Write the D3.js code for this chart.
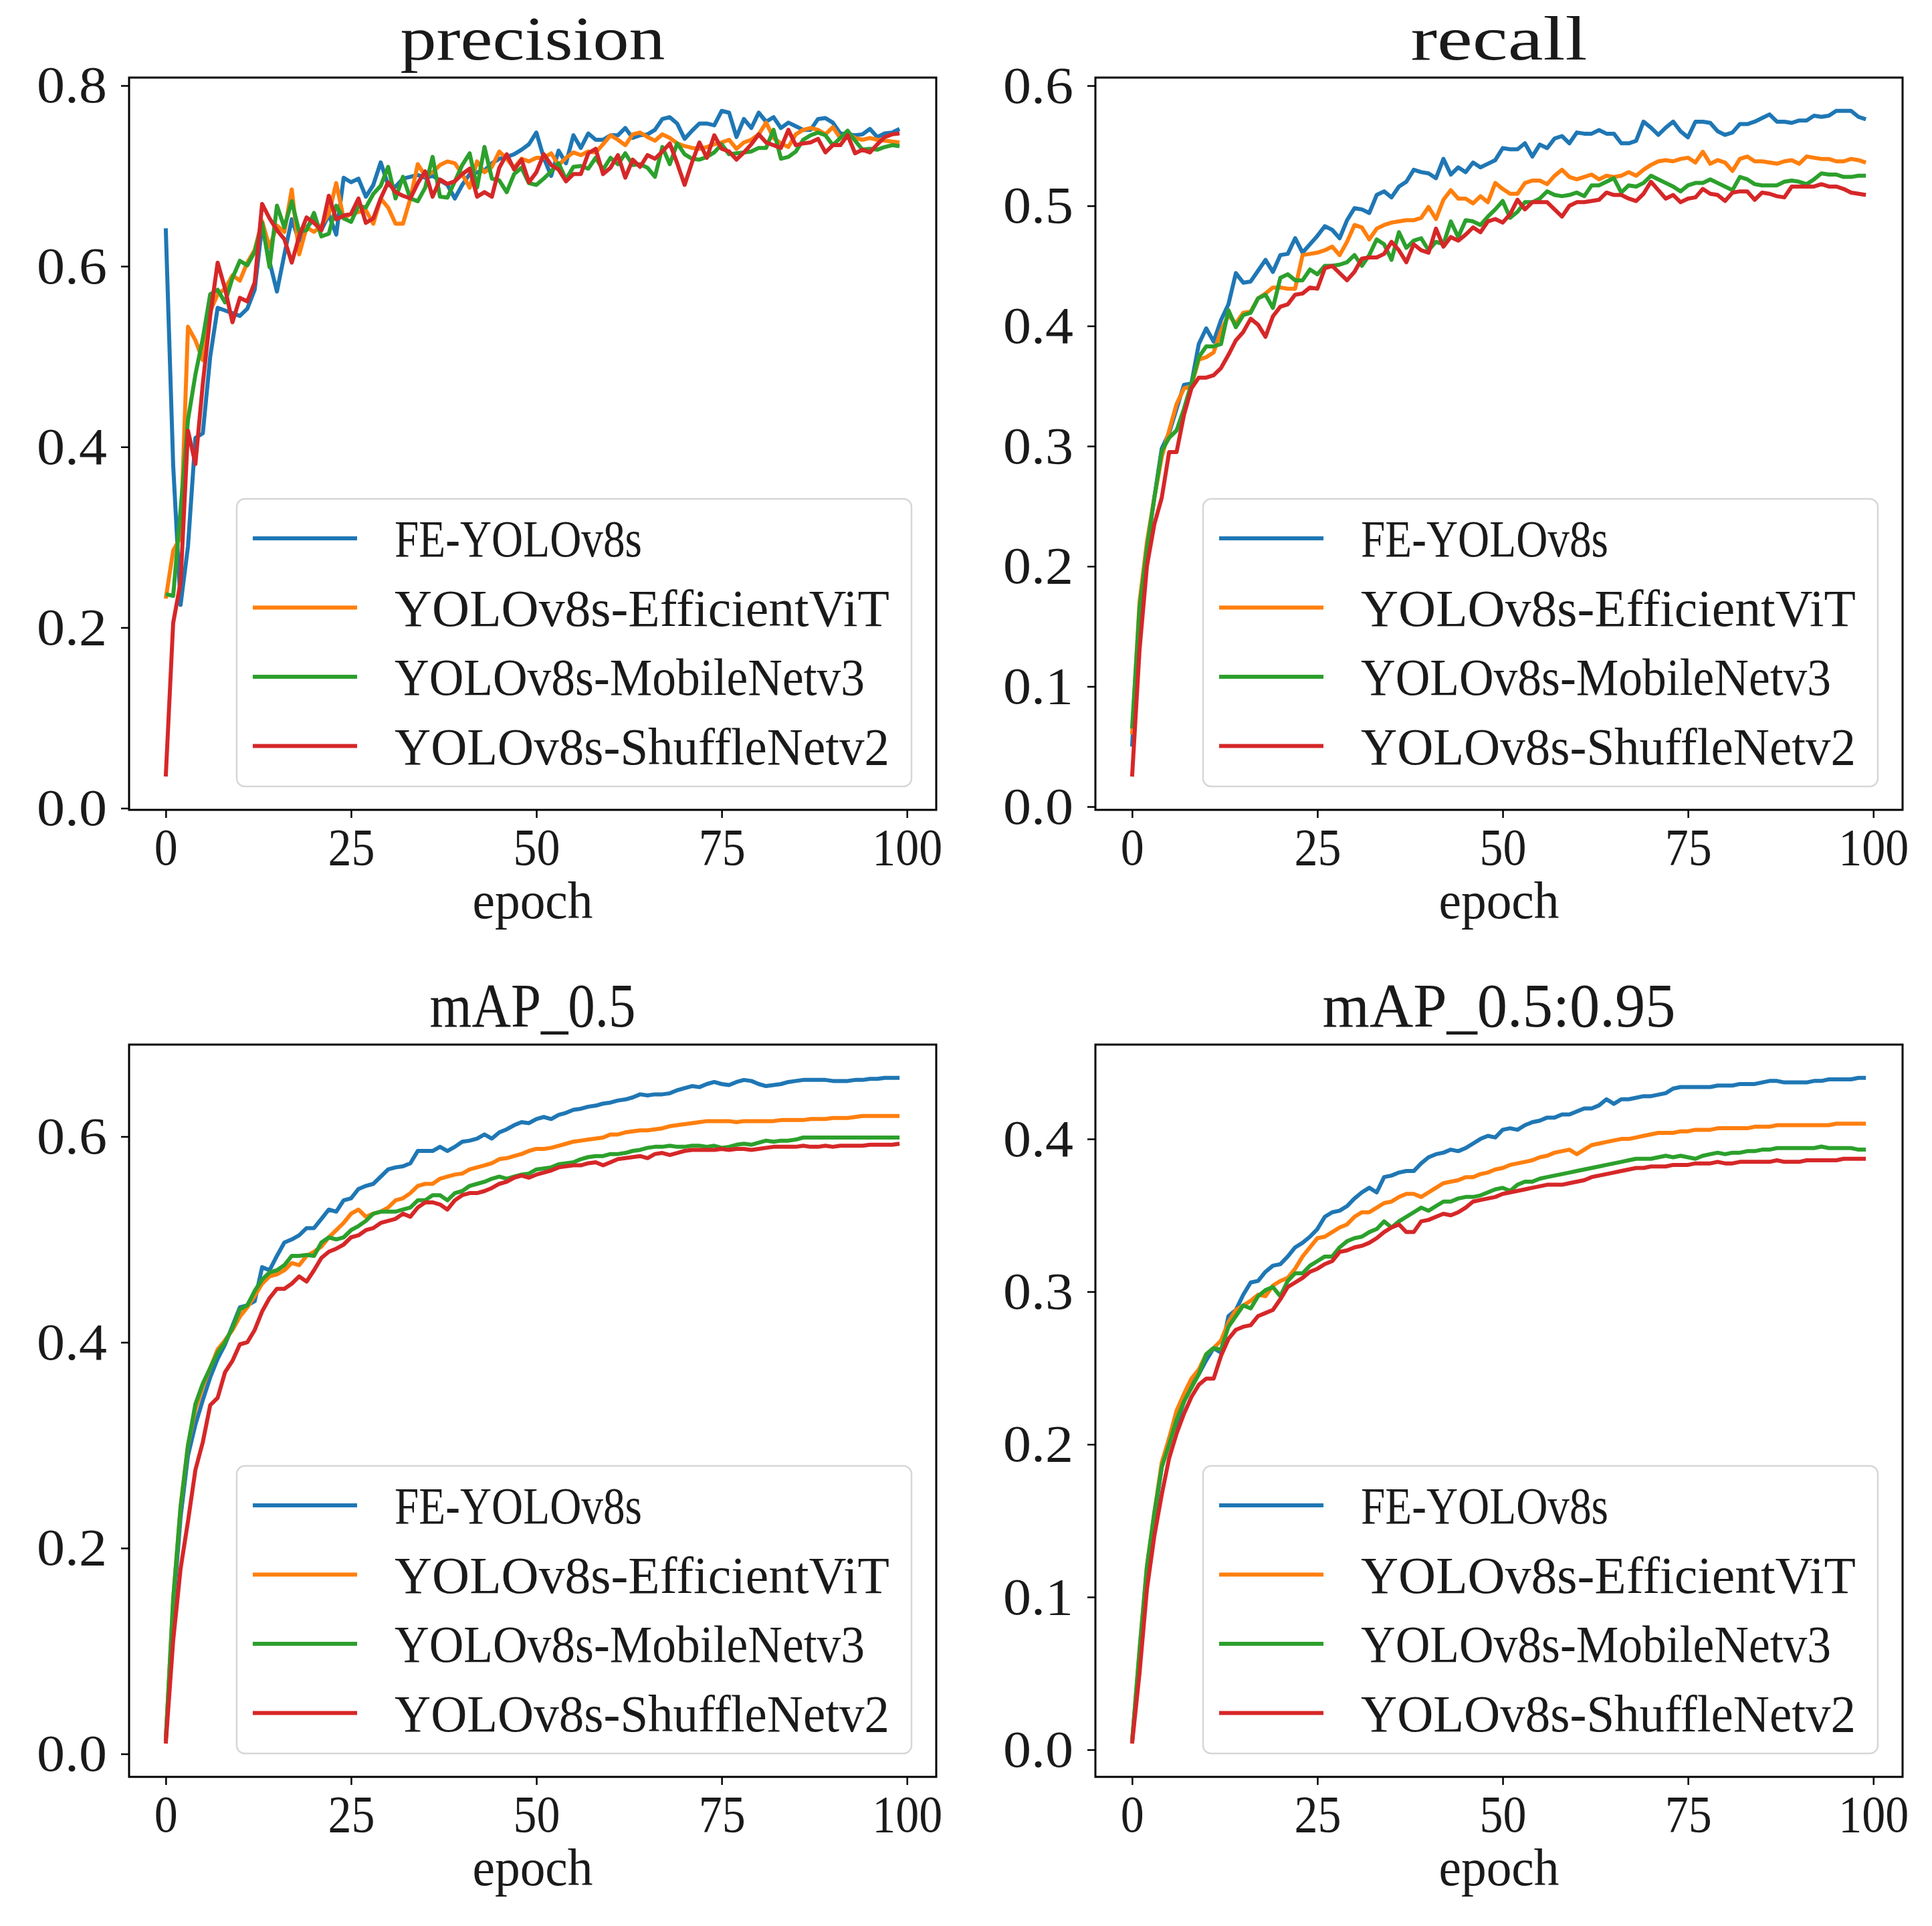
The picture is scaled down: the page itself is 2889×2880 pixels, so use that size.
<!DOCTYPE html>
<html>
<head>
<meta charset="utf-8">
<script src="https://cdn.jsdelivr.net/npm/d3@7"></script>
<style>
html, body { margin: 0; padding: 0; background: #fff; }
svg { display: block; }
</style>
</head>
<body>
<svg id="chart" width="2889" height="2880"></svg>
<script>
// Series and ticks
var SERIES_NAMES = ['FE-YOLOv8s', 'YOLOv8s-EfficientViT', 'YOLOv8s-MobileNetv3', 'YOLOv8s-ShuffleNetv2'];
var SERIES_COLORS = ['#1f77b4', '#ff7f0e', '#2ca02c', '#d62728'];
var EPOCHS = d3.range(100);
var X_TICKS = [0, 25, 50, 75, 100];
var PRECISION_TICKS = [0, 0.2, 0.4, 0.6, 0.8];
var RECALL_TICKS = [0, 0.1, 0.2, 0.3, 0.4, 0.5, 0.6];
var MAP50_TICKS = [0, 0.2, 0.4, 0.6];
var MAP95_TICKS = [0, 0.1, 0.2, 0.3, 0.4];

// precision
var precisionFE = [0.642, 0.38, 0.225, 0.29, 0.41, 0.415, 0.5, 0.554, 0.551, 0.548,
  0.545, 0.553, 0.574, 0.645, 0.605, 0.572, 0.613, 0.652, 0.628, 0.643,
  0.652, 0.64, 0.657, 0.635, 0.698, 0.693, 0.697, 0.677, 0.69, 0.715,
  0.69, 0.688, 0.697, 0.699, 0.701, 0.698, 0.7, 0.695, 0.69, 0.675,
  0.69, 0.702, 0.704, 0.706, 0.714, 0.719, 0.721, 0.724, 0.729, 0.735,
  0.748, 0.72, 0.70, 0.728, 0.714, 0.745, 0.731, 0.747, 0.74, 0.74,
  0.745, 0.745, 0.753, 0.742, 0.745, 0.746, 0.751, 0.763, 0.765, 0.758,
  0.741, 0.75, 0.758, 0.758, 0.756, 0.772, 0.77, 0.743, 0.763, 0.753,
  0.77, 0.76, 0.765, 0.753, 0.759, 0.755, 0.751, 0.751, 0.763, 0.764,
  0.759, 0.747, 0.746, 0.745, 0.746, 0.752, 0.743, 0.747, 0.748, 0.752];
var precisionEViT = [0.232, 0.285, 0.30, 0.533, 0.518, 0.496, 0.55, 0.569, 0.575, 0.59,
  0.584, 0.604, 0.618, 0.65, 0.621, 0.645, 0.638, 0.685, 0.613, 0.643,
  0.638, 0.645, 0.658, 0.692, 0.653, 0.658, 0.66, 0.662, 0.647, 0.675,
  0.665, 0.647, 0.647, 0.675, 0.713, 0.7, 0.704, 0.712, 0.716, 0.714,
  0.702, 0.687, 0.716, 0.704, 0.71, 0.727, 0.719, 0.709, 0.719, 0.716,
  0.72, 0.72, 0.725, 0.712, 0.72, 0.726, 0.723, 0.727, 0.726, 0.735,
  0.745, 0.74, 0.734, 0.746, 0.748, 0.743, 0.739, 0.746, 0.742, 0.736,
  0.733, 0.731, 0.73, 0.732, 0.735, 0.737, 0.74, 0.73, 0.737, 0.74,
  0.746, 0.759, 0.742, 0.736, 0.732, 0.746, 0.751, 0.753, 0.751, 0.746,
  0.754, 0.742, 0.747, 0.742, 0.74, 0.742, 0.74, 0.739, 0.738, 0.737];
var precisionMNet = [0.237, 0.235, 0.33, 0.43, 0.48, 0.52, 0.569, 0.574, 0.56, 0.587,
  0.606, 0.601, 0.616, 0.648, 0.599, 0.667, 0.643, 0.672, 0.638, 0.64,
  0.659, 0.633, 0.636, 0.667, 0.653, 0.649, 0.667, 0.665, 0.68, 0.689,
  0.71, 0.675, 0.699, 0.675, 0.672, 0.687, 0.721, 0.677, 0.676, 0.694,
  0.712, 0.725, 0.687, 0.732, 0.697, 0.695, 0.682, 0.702, 0.709, 0.692,
  0.69, 0.697, 0.705, 0.714, 0.696, 0.71, 0.711, 0.708, 0.72, 0.707,
  0.72, 0.713, 0.725, 0.712, 0.713, 0.709, 0.699, 0.732, 0.713, 0.736,
  0.724, 0.719, 0.718, 0.721, 0.726, 0.735, 0.724, 0.725, 0.726, 0.727,
  0.731, 0.731, 0.751, 0.719, 0.721, 0.727, 0.74, 0.745, 0.748, 0.745,
  0.734, 0.742, 0.75, 0.739, 0.729, 0.73, 0.729, 0.732, 0.734, 0.733];
var precisionSNet = [0.035, 0.205, 0.25, 0.418, 0.381, 0.47, 0.545, 0.604, 0.575, 0.538,
  0.565, 0.561, 0.582, 0.669, 0.653, 0.64, 0.63, 0.604, 0.633, 0.654,
  0.648, 0.64, 0.678, 0.652, 0.656, 0.658, 0.675, 0.648, 0.653, 0.675,
  0.693, 0.682, 0.678, 0.675, 0.692, 0.705, 0.677, 0.696, 0.691, 0.694,
  0.702, 0.708, 0.677, 0.682, 0.677, 0.709, 0.724, 0.707, 0.718, 0.693,
  0.704, 0.724, 0.712, 0.707, 0.694, 0.702, 0.702, 0.725, 0.73, 0.702,
  0.709, 0.723, 0.698, 0.718, 0.71, 0.723, 0.719, 0.727, 0.736, 0.714,
  0.69, 0.715, 0.737, 0.72, 0.745, 0.73, 0.727, 0.718, 0.726, 0.735,
  0.746, 0.737, 0.734, 0.731, 0.751, 0.734, 0.736, 0.737, 0.741, 0.726,
  0.734, 0.734, 0.745, 0.725, 0.729, 0.726, 0.735, 0.743, 0.746, 0.747];

// recall
var recallFE = [0.05, 0.16, 0.215, 0.257, 0.298, 0.311, 0.331, 0.351, 0.352, 0.385,
  0.398, 0.387, 0.405, 0.418, 0.444, 0.436, 0.437, 0.446, 0.455, 0.445,
  0.459, 0.46, 0.473, 0.461, 0.468, 0.475, 0.483, 0.48, 0.473, 0.488,
  0.498, 0.497, 0.494, 0.509, 0.512, 0.507, 0.516, 0.52, 0.53, 0.528,
  0.527, 0.523, 0.539, 0.526, 0.532, 0.528, 0.536, 0.532, 0.535, 0.538,
  0.548, 0.547, 0.547, 0.552, 0.541, 0.551, 0.548, 0.556, 0.558, 0.552,
  0.561, 0.56, 0.56, 0.563, 0.56, 0.56, 0.552, 0.552, 0.554, 0.57,
  0.565, 0.559, 0.565, 0.57, 0.562, 0.557, 0.57, 0.57, 0.569, 0.562,
  0.559, 0.561, 0.568, 0.568, 0.57, 0.573, 0.576, 0.57, 0.57, 0.569,
  0.571, 0.571, 0.575, 0.574, 0.575, 0.579, 0.579, 0.579, 0.574, 0.572];
var recallEViT = [0.06, 0.17, 0.22, 0.257, 0.291, 0.313, 0.335, 0.348, 0.35, 0.372,
  0.374, 0.378, 0.396, 0.409, 0.402, 0.411, 0.412, 0.423, 0.427, 0.432,
  0.432, 0.431, 0.431, 0.459, 0.46, 0.461, 0.463, 0.466, 0.459, 0.47,
  0.484, 0.482, 0.472, 0.481, 0.484, 0.486, 0.487, 0.488, 0.488, 0.49,
  0.499, 0.489, 0.505, 0.513, 0.506, 0.506, 0.502, 0.508, 0.503, 0.519,
  0.514, 0.51, 0.51, 0.519, 0.521, 0.521, 0.518, 0.525, 0.53, 0.524,
  0.522, 0.524, 0.526, 0.522, 0.525, 0.524, 0.525, 0.528, 0.525, 0.53,
  0.534, 0.537, 0.538, 0.537, 0.539, 0.54, 0.536, 0.545, 0.535, 0.538,
  0.536, 0.529, 0.539, 0.541, 0.537, 0.537, 0.536, 0.535, 0.537, 0.538,
  0.535, 0.541, 0.54, 0.539, 0.539, 0.537, 0.537, 0.539, 0.538, 0.536];
var recallMNet = [0.065, 0.165, 0.215, 0.257, 0.296, 0.307, 0.313, 0.331, 0.352, 0.374,
  0.383, 0.383, 0.385, 0.413, 0.399, 0.409, 0.411, 0.423, 0.426, 0.415,
  0.44, 0.443, 0.438, 0.438, 0.447, 0.443, 0.45, 0.45, 0.451, 0.453,
  0.459, 0.45, 0.459, 0.472, 0.468, 0.455, 0.478, 0.465, 0.471, 0.473,
  0.463, 0.47, 0.468, 0.487, 0.474, 0.488, 0.487, 0.484, 0.491, 0.497,
  0.504, 0.49, 0.495, 0.503, 0.503, 0.506, 0.512, 0.509, 0.508, 0.509,
  0.511, 0.508, 0.517, 0.517, 0.52, 0.523, 0.511, 0.517, 0.516, 0.519,
  0.525, 0.522, 0.519, 0.516, 0.512, 0.517, 0.519, 0.519, 0.522, 0.519,
  0.516, 0.513, 0.524, 0.522, 0.518, 0.517, 0.517, 0.517, 0.52, 0.521,
  0.52, 0.518, 0.522, 0.527, 0.526, 0.526, 0.524, 0.524, 0.525, 0.525];
var recallSNet = [0.025, 0.13, 0.2, 0.235, 0.257, 0.295, 0.295, 0.326, 0.348, 0.357,
  0.357, 0.359, 0.365, 0.376, 0.388, 0.395, 0.406, 0.401, 0.391, 0.408,
  0.416, 0.418, 0.426, 0.427, 0.432, 0.431, 0.448, 0.45, 0.444, 0.438,
  0.445, 0.456, 0.457, 0.457, 0.46, 0.47, 0.463, 0.453, 0.468, 0.463,
  0.461, 0.481, 0.466, 0.474, 0.471, 0.476, 0.482, 0.478, 0.487, 0.489,
  0.486, 0.493, 0.505, 0.497, 0.503, 0.503, 0.503, 0.497, 0.491, 0.5,
  0.503, 0.503, 0.504, 0.505, 0.511, 0.509, 0.509, 0.506, 0.504, 0.51,
  0.52, 0.513, 0.506, 0.509, 0.503, 0.506, 0.507, 0.514, 0.51, 0.509,
  0.504, 0.511, 0.512, 0.512, 0.505, 0.511, 0.51, 0.508, 0.507, 0.516,
  0.516, 0.516, 0.516, 0.518, 0.516, 0.516, 0.514, 0.511, 0.51, 0.509];

// mAP_0.5
var map50FE = [0.013, 0.14, 0.23, 0.29, 0.32, 0.344, 0.366, 0.384, 0.398, 0.416,
  0.434, 0.436, 0.44, 0.473, 0.47, 0.484, 0.497, 0.5, 0.504, 0.511,
  0.511, 0.52, 0.529, 0.527, 0.538, 0.54, 0.549, 0.552, 0.554, 0.561,
  0.568, 0.57, 0.571, 0.574, 0.586, 0.586, 0.586, 0.59, 0.586, 0.59,
  0.595, 0.596, 0.598, 0.602, 0.598, 0.604, 0.607, 0.611, 0.614, 0.613,
  0.617, 0.619, 0.617, 0.621, 0.623, 0.626, 0.627, 0.629, 0.63, 0.632,
  0.633, 0.635, 0.636, 0.638, 0.641, 0.64, 0.641, 0.641, 0.642, 0.645,
  0.647, 0.649, 0.648, 0.651, 0.653, 0.651, 0.65, 0.653, 0.655, 0.654,
  0.651, 0.649, 0.65, 0.651, 0.653, 0.654, 0.655, 0.655, 0.655, 0.655,
  0.654, 0.654, 0.654, 0.655, 0.655, 0.656, 0.656, 0.657, 0.657, 0.657];
var map50EViT = [0.013, 0.15, 0.24, 0.3, 0.335, 0.357, 0.375, 0.393, 0.402, 0.412,
  0.425, 0.434, 0.445, 0.457, 0.464, 0.466, 0.47, 0.477, 0.475, 0.484,
  0.488, 0.493, 0.502, 0.509, 0.516, 0.525, 0.529, 0.522, 0.525, 0.527,
  0.531, 0.538, 0.54, 0.545, 0.552, 0.554, 0.554, 0.559, 0.561, 0.563,
  0.564, 0.568, 0.57, 0.572, 0.574, 0.578, 0.579, 0.581, 0.583, 0.586,
  0.588, 0.588, 0.589, 0.591, 0.593, 0.595, 0.596, 0.597, 0.598, 0.599,
  0.602, 0.602, 0.604, 0.605, 0.606, 0.606, 0.607, 0.608, 0.61, 0.611,
  0.612, 0.613, 0.614, 0.615, 0.615, 0.615, 0.615, 0.614, 0.615, 0.615,
  0.615, 0.615, 0.615, 0.616, 0.616, 0.616, 0.616, 0.617, 0.617, 0.617,
  0.618, 0.618, 0.618, 0.619, 0.62, 0.62, 0.62, 0.62, 0.62, 0.62];
var map50MNet = [0.013, 0.15, 0.24, 0.3, 0.34, 0.36, 0.375, 0.39, 0.4, 0.414,
  0.432, 0.436, 0.45, 0.461, 0.468, 0.47, 0.475, 0.484, 0.484, 0.485,
  0.484, 0.497, 0.502, 0.5, 0.502, 0.509, 0.513, 0.518, 0.525, 0.527,
  0.527, 0.527, 0.529, 0.531, 0.538, 0.538, 0.543, 0.543, 0.538, 0.545,
  0.547, 0.552, 0.554, 0.556, 0.559, 0.561, 0.559, 0.561, 0.563, 0.564,
  0.568, 0.569, 0.57, 0.573, 0.574, 0.575, 0.578, 0.58, 0.581, 0.581,
  0.583, 0.583, 0.584, 0.586, 0.587, 0.589, 0.59, 0.59, 0.591, 0.59,
  0.59, 0.591, 0.591, 0.59, 0.591, 0.589, 0.59, 0.592, 0.593, 0.592,
  0.594, 0.596, 0.595, 0.596, 0.596, 0.597, 0.599, 0.599, 0.599, 0.599,
  0.599, 0.599, 0.599, 0.599, 0.599, 0.599, 0.599, 0.599, 0.599, 0.599];
var map50SNet = [0.01, 0.11, 0.18, 0.226, 0.276, 0.303, 0.339, 0.346, 0.371, 0.382,
  0.398, 0.4, 0.412, 0.43, 0.443, 0.452, 0.452, 0.457, 0.464, 0.459,
  0.47, 0.482, 0.488, 0.491, 0.495, 0.502, 0.504, 0.509, 0.511, 0.516,
  0.518, 0.52, 0.525, 0.522, 0.531, 0.536, 0.536, 0.534, 0.529, 0.538,
  0.543, 0.545, 0.545, 0.547, 0.55, 0.554, 0.556, 0.56, 0.562, 0.56,
  0.563, 0.565, 0.567, 0.57, 0.571, 0.572, 0.572, 0.574, 0.575, 0.572,
  0.575, 0.578, 0.579, 0.58, 0.581, 0.579, 0.583, 0.584, 0.582, 0.584,
  0.586, 0.587, 0.587, 0.587, 0.587, 0.588, 0.587, 0.588, 0.588, 0.587,
  0.588, 0.589, 0.59, 0.59, 0.59, 0.59, 0.591, 0.59, 0.59, 0.591,
  0.59, 0.591, 0.591, 0.591, 0.591, 0.592, 0.592, 0.592, 0.592, 0.593];

// mAP_0.5:0.95
var map95FE = [0.005, 0.06, 0.115, 0.152, 0.185, 0.204, 0.213, 0.228, 0.239, 0.246,
  0.255, 0.263, 0.26, 0.284, 0.288, 0.298, 0.306, 0.307, 0.313, 0.317,
  0.318, 0.323, 0.329, 0.332, 0.336, 0.341, 0.349, 0.352, 0.353, 0.356,
  0.361, 0.365, 0.368, 0.365, 0.375, 0.376, 0.378, 0.379, 0.379, 0.384,
  0.388, 0.39, 0.391, 0.393, 0.392, 0.394, 0.397, 0.4, 0.402, 0.401,
  0.406, 0.407, 0.406, 0.409, 0.411, 0.412, 0.414, 0.414, 0.416, 0.416,
  0.418, 0.42, 0.42, 0.422, 0.426, 0.423, 0.426, 0.426, 0.427, 0.428,
  0.428, 0.429, 0.43, 0.433, 0.434, 0.434, 0.434, 0.434, 0.434, 0.435,
  0.435, 0.435, 0.436, 0.436, 0.436, 0.437, 0.438, 0.438, 0.437, 0.437,
  0.437, 0.437, 0.438, 0.438, 0.439, 0.439, 0.439, 0.439, 0.44, 0.44];
var map95EViT = [0.005, 0.065, 0.12, 0.155, 0.188, 0.204, 0.222, 0.233, 0.243, 0.249,
  0.259, 0.263, 0.268, 0.28, 0.288, 0.291, 0.294, 0.298, 0.297, 0.304,
  0.307, 0.309, 0.315, 0.323, 0.329, 0.335, 0.336, 0.339, 0.342, 0.344,
  0.349, 0.352, 0.352, 0.355, 0.358, 0.359, 0.362, 0.364, 0.364, 0.362,
  0.365, 0.368, 0.371, 0.372, 0.373, 0.375, 0.375, 0.377, 0.378, 0.38,
  0.381, 0.383, 0.384, 0.385, 0.386, 0.388, 0.389, 0.391, 0.392, 0.393,
  0.39, 0.393, 0.396, 0.397, 0.398, 0.399, 0.4, 0.4, 0.401, 0.402,
  0.403, 0.404, 0.404, 0.404, 0.405, 0.405, 0.406, 0.406, 0.406, 0.407,
  0.407, 0.407, 0.407, 0.407, 0.408, 0.408, 0.408, 0.409, 0.409, 0.409,
  0.409, 0.409, 0.409, 0.409, 0.409, 0.41, 0.41, 0.41, 0.41, 0.41];
var map95MNet = [0.005, 0.065, 0.12, 0.155, 0.185, 0.2, 0.216, 0.228, 0.237, 0.246,
  0.259, 0.263, 0.262, 0.277, 0.284, 0.291, 0.289, 0.297, 0.301, 0.303,
  0.297, 0.307, 0.312, 0.312, 0.317, 0.32, 0.323, 0.323, 0.329, 0.333,
  0.335, 0.336, 0.339, 0.341, 0.346, 0.342, 0.346, 0.349, 0.352, 0.355,
  0.353, 0.356, 0.359, 0.359, 0.361, 0.362, 0.362, 0.363, 0.365, 0.367,
  0.368, 0.366, 0.37, 0.372, 0.372, 0.374, 0.375, 0.376, 0.377, 0.378,
  0.379, 0.38, 0.381, 0.382, 0.383, 0.384, 0.385, 0.386, 0.387, 0.387,
  0.387, 0.388, 0.389, 0.388, 0.389, 0.388, 0.387, 0.389, 0.39, 0.391,
  0.39, 0.391, 0.391, 0.392, 0.392, 0.393, 0.393, 0.394, 0.394, 0.394,
  0.394, 0.394, 0.394, 0.395, 0.394, 0.394, 0.394, 0.394, 0.393, 0.393];
var map95SNet = [0.004, 0.05, 0.105, 0.14, 0.167, 0.191, 0.207, 0.22, 0.231, 0.239,
  0.243, 0.243, 0.258, 0.269, 0.275, 0.277, 0.278, 0.284, 0.286, 0.288,
  0.295, 0.303, 0.306, 0.309, 0.313, 0.315, 0.318, 0.32, 0.326, 0.327,
  0.329, 0.33, 0.332, 0.335, 0.339, 0.342, 0.344, 0.339, 0.339, 0.346,
  0.347, 0.349, 0.351, 0.35, 0.352, 0.355, 0.359, 0.36, 0.361, 0.362,
  0.364, 0.365, 0.366, 0.367, 0.368, 0.369, 0.37, 0.37, 0.37, 0.371,
  0.372, 0.373, 0.375, 0.376, 0.377, 0.378, 0.379, 0.38, 0.381, 0.381,
  0.382, 0.382, 0.382, 0.383, 0.383, 0.383, 0.384, 0.384, 0.384, 0.385,
  0.384, 0.384, 0.385, 0.385, 0.385, 0.385, 0.385, 0.386, 0.385, 0.385,
  0.385, 0.386, 0.386, 0.386, 0.386, 0.386, 0.387, 0.387, 0.387, 0.387];

var PANELS = [
  { title: 'precision', ticks: PRECISION_TICKS, series: [precisionFE, precisionEViT, precisionMNet, precisionSNet] },
  { title: 'recall', ticks: RECALL_TICKS, series: [recallFE, recallEViT, recallMNet, recallSNet] },
  { title: 'mAP_0.5', ticks: MAP50_TICKS, series: [map50FE, map50EViT, map50MNet, map50SNet] },
  { title: 'mAP_0.5:0.95', ticks: MAP95_TICKS, series: [map95FE, map95EViT, map95MNet, map95SNet] }
];

// Layout (pixels)
var PLOT_W = 1207, PLOT_H = 1095;
var ORIGINS = [[193, 116], [1638, 116], [193, 1562], [1638, 1562]];
var FONT = '"Liberation Serif", "DejaVu Serif", serif';

var svg = d3.select('#chart');

// SimSun-like look: narrow serif glyphs at a fixed advance per character
function fitText(sel, perChar) {
  sel.attr('textLength', function() { return this.textContent.length * perChar; })
     .attr('lengthAdjust', 'spacingAndGlyphs');
}

function padded(lo, hi) { var m = (hi - lo) * 0.05; return [lo - m, hi + m]; }

function styleAxis(g) {
  g.attr('font-family', FONT).attr('font-size', 78);
  g.select('.domain').remove();
  g.selectAll('.tick line').attr('stroke', '#000').attr('stroke-width', 2.5);
  g.selectAll('.tick text').attr('fill', '#1a1a1a');
  fitText(g.selectAll('.tick text'), 35);
}

function renderPanel(panel, origin) {
  var g = svg.append('g').attr('transform', 'translate(' + origin[0] + ',' + origin[1] + ')');
  var all = d3.merge(panel.series);

  var x = d3.scaleLinear().domain(padded(d3.min(EPOCHS), d3.max(EPOCHS))).range([0, PLOT_W]);
  var y = d3.scaleLinear().domain(padded(d3.min(all), d3.max(all))).range([PLOT_H, 0]);

  var line = d3.line()
    .x(function(d, i) { return x(EPOCHS[i]); })
    .y(function(d) { return y(d); });

  // 1. lines
  g.selectAll('path.series').data(panel.series).enter().append('path')
    .attr('class', 'series')
    .attr('d', line)
    .attr('fill', 'none')
    .attr('stroke', function(d, i) { return SERIES_COLORS[i]; })
    .attr('stroke-width', 6)
    .attr('stroke-linejoin', 'round');

  // 2. axes
  g.append('g').attr('transform', 'translate(0,' + PLOT_H + ')')
    .call(d3.axisBottom(x).tickValues(X_TICKS).tickSize(12).tickPadding(15).tickFormat(d3.format('d')))
    .call(styleAxis);
  g.append('g')
    .call(d3.axisLeft(y).tickValues(panel.ticks).tickSize(12).tickPadding(21).tickFormat(d3.format('.1f')))
    .call(styleAxis);

  g.append('rect').attr('width', PLOT_W).attr('height', PLOT_H)
    .attr('fill', 'none').attr('stroke', '#000').attr('stroke-width', 3);

  // 3. title + x label
  g.append('text').text(panel.title)
    .attr('x', PLOT_W / 2).attr('y', -27)
    .attr('text-anchor', 'middle').attr('font-family', FONT).attr('font-size', 94).attr('fill', '#1a1a1a')
    .call(fitText, 44);
  g.append('text').text('epoch')
    .attr('x', PLOT_W / 2).attr('y', PLOT_H + 162)
    .attr('text-anchor', 'middle').attr('font-family', FONT).attr('font-size', 78).attr('fill', '#1a1a1a')
    .call(fitText, 36);

  // 4. legend, lower right
  var lw = 1009, lh = 430;
  var lg = g.append('g').attr('transform', 'translate(' + (PLOT_W - 37 - lw) + ',' + (PLOT_H - 35 - lh) + ')');
  lg.append('rect').attr('width', lw).attr('height', lh).attr('rx', 12)
    .attr('fill', '#fff').attr('fill-opacity', 0.8)
    .attr('stroke', '#d6d6d6').attr('stroke-width', 2.5);
  var row = lg.selectAll('g.row').data(SERIES_NAMES).enter().append('g')
    .attr('class', 'row')
    .attr('transform', function(d, i) { return 'translate(0,' + (59 + i * 103.5) + ')'; });
  row.append('line').attr('x1', 24).attr('x2', 180)
    .attr('stroke', function(d, i) { return SERIES_COLORS[i]; }).attr('stroke-width', 6);
  row.append('text').text(function(d) { return d; })
    .attr('x', 236).attr('y', 27)
    .attr('font-family', FONT).attr('font-size', 78).attr('fill', '#1a1a1a')
    .call(fitText, 37);
}

PANELS.forEach(function(p, i) { renderPanel(p, ORIGINS[i]); });
</script>
</body>
</html>
